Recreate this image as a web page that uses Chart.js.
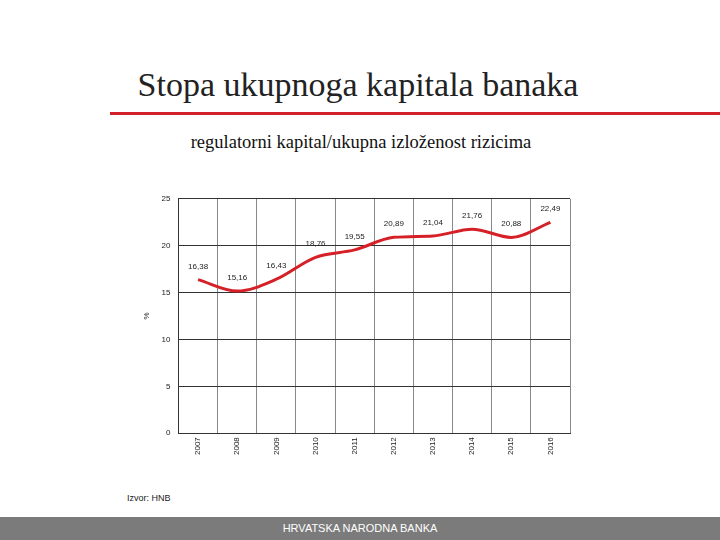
<!DOCTYPE html>
<html><head><meta charset="utf-8">
<script src="https://cdn.jsdelivr.net/npm/chart.js@4/dist/chart.umd.min.js"></script>
<style>
body{margin:0;width:720px;height:540px;background:#fff;position:relative;overflow:hidden;font-family:"Liberation Serif",serif}
#t{position:absolute;top:66px;left:0;width:716px;text-align:center;font-size:34px;color:#222}
#line{position:absolute;top:112px;left:110px;width:610px;height:3px;background:#d0202a}
#s{position:absolute;top:132px;left:0;width:722px;text-align:center;font-size:18.5px;color:#111}
#src{position:absolute;top:493px;left:127px;font:9px "Liberation Sans",sans-serif;color:#222}
#f{position:absolute;top:517px;left:0;width:720px;height:23px;background:#7b7b7b;color:#fff;font:11px "Liberation Sans",sans-serif;text-align:center;line-height:23px}
#c{position:absolute;left:140px;top:186px}
</style></head><body>
<div id="t">Stopa ukupnoga kapitala banaka</div>
<div id="line"></div>
<div id="s">regulatorni kapital/ukupna izloženost rizicima</div>
<div id="src">Izvor: HNB</div>
<div id="f">HRVATSKA NARODNA BANKA</div>
<canvas id="c" width="440" height="273"></canvas>
<script>
const years=["2007","2008","2009","2010","2011","2012","2013","2014","2015","2016"];
const values=[16.38,15.16,16.43,18.76,19.55,20.89,21.04,21.76,20.88,22.49];
const yTicks=[0,5,10,15,20,25];
const lbl={id:'lbl',afterDatasetsDraw(ch){const c=ch.ctx;const m=ch.getDatasetMeta(0);c.save();c.font='8px "Liberation Sans",sans-serif';c.fillStyle='#222';c.textAlign='center';m.data.forEach((p,i)=>{c.fillText(values[i].toFixed(2).replace('.',','),p.x,p.y-11);});c.restore();}};
new Chart(document.getElementById('c'),{type:'line',data:{labels:years,datasets:[{data:values,borderColor:'#d62027',borderWidth:3,pointRadius:0,tension:0.4,cubicInterpolationMode:'monotone'}]},
options:{responsive:false,animation:false,plugins:{legend:{display:false},tooltip:{enabled:false}},layout:{padding:{top:6,right:10,bottom:0,left:0}},
scales:{x:{offset:true,grid:{offset:true,color:'#888',drawTicks:false},border:{color:'#333'},ticks:{maxRotation:90,minRotation:90,padding:4,color:'#222',font:{size:8,family:'"Liberation Sans",sans-serif'}}},
y:{min:0,max:25,afterBuildTicks(a){a.ticks=yTicks.map(v=>({value:v}));},grid:{color:'#333',drawTicks:false},border:{color:'#333'},ticks:{padding:8,color:'#222',font:{size:8,family:'"Liberation Sans",sans-serif'}},title:{display:true,text:'%',color:'#222',font:{size:8},padding:2}}}},plugins:[lbl]});
</script></body></html>
